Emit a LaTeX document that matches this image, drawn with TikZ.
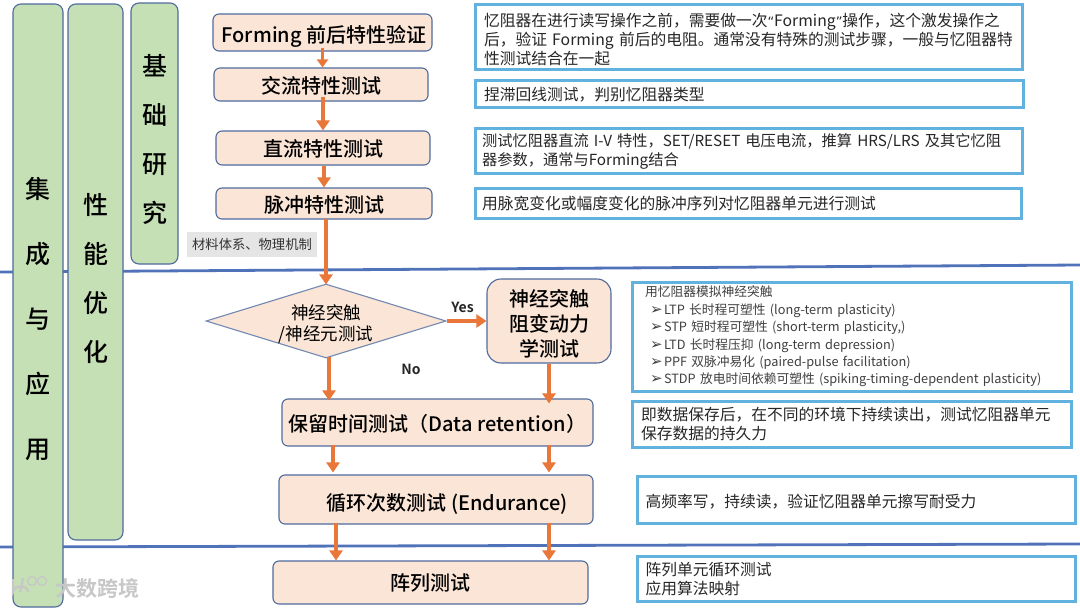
\documentclass[tikz,border=0pt]{standalone}
\usepackage{fontspec}
\setmainfont{Noto Sans CJK SC}
\newfontfamily\midfont{Noto Sans CJK SC Medium}
\newfontfamily\heavyfont{Noto Sans CJK SC Bold}
\newfontfamily\symfont{DejaVu Sans}
\usetikzlibrary{arrows.meta,shapes.geometric}
\definecolor{peach}{HTML}{FBE5D6}
\definecolor{leaf}{HTML}{C5E0B4}
\definecolor{flowblue}{HTML}{4F6A9E}
\definecolor{skyline}{HTML}{62B2DF}
\definecolor{arrowor}{HTML}{E9773A}
\definecolor{divider}{HTML}{4F72B8}
\newcommand{\blt}{\hspace*{5pt}\makebox[14pt][l]{\symfont\fontsize{15}{17.4}\selectfont ➢}}
\newcommand{\lowr}[2]{\raisebox{-#1pt}[\height][\depth]{#2}}
\newcommand{\nq}[1]{{\symfont\fontsize{13}{19}\selectfont #1}}
\begin{document}
\begin{tikzpicture}[x=1pt, y=-1pt,
    gbox/.style={rectangle, rounded corners=8, draw=flowblue, line width=1.1pt, fill=leaf},
    gtext/.style={align=center, font=\midfont\fontsize{25}{49}\selectfont, inner sep=0pt},
    tbox/.style={rectangle, rounded corners=6, draw=flowblue, line width=1.1pt, fill=peach,
                 align=center, font=\midfont\fontsize{20}{24}\selectfont, inner sep=0pt},
    dbox/.style={diamond, aspect=3.24, draw=flowblue!80!white, line width=1.1pt, fill=peach,
                 align=center, font=\fontsize{17.5}{21}\selectfont, inner sep=0pt},
    nbox/.style={rectangle, draw=skyline, line width=3pt, fill=white, inner sep=0pt,
                 align=left, font=\fontsize{15.75}{19}\selectfont, text=black!85},
    flow/.style={line width=3.4pt, arrowor, -{Triangle[width=13pt,length=10pt]}},
    sep/.style={line width=2.8pt, divider}
]
    \useasboundingbox (0,0) rectangle (1080,608);

    % dividers
    \coordinate (upL) at (0,272);
    \coordinate (upR) at (1080,265);
    \coordinate (loL) at (0,547);
    \coordinate (loR) at (1080,544);
    \draw[sep] (upL) -- (upR);
    \draw[sep] (loL) -- (loR);

    % left columns
    \node[gbox, minimum width=50, minimum height=603] (integ) at (38,305.5) {};
    \node[gbox, minimum width=55, minimum height=536] (perf) at (95.5,272) {};
    \node[gbox, minimum width=47, minimum height=261] (basic) at (154.5,133.5) {};
    \node[gtext, font=\midfont\fontsize{25}{65}\selectfont] (integt) at (38,319) {集\\成\\与\\应\\用};
    \node[gtext] (perft) at (95.5,278) {性\\能\\优\\化};
    \node[gtext] (basict) at (154.5,139.5) {基\\础\\研\\究};

    % flow
    \node[tbox, minimum width=219, minimum height=37] (form) at (322.5,32.5) {\lowr{4}{\hspace{3pt}Forming 前后特性验证}};
    \node[tbox, minimum width=214, minimum height=33] (ac) at (321,84.5) {\lowr{1}{交流特性测试}};
    \node[tbox, minimum width=214, minimum height=34] (dc) at (323,148) {\lowr{1}{直流特性测试}};
    \node[tbox, minimum width=216, minimum height=31] (pulse) at (324,203.5) {\lowr{1}{脉冲特性测试}};
    \node[rectangle, fill=black!10, minimum width=130, minimum height=25, inner sep=0pt,
          font=\fontsize{13.3}{16}\selectfont, text=black!80] (mater) at (252,244.5) {材料体系、物理机制};
    \node[dbox, minimum width=240, minimum height=74] (neuro) at (326,321) {\lowr{3}{神经突触}\\\lowr{3}{/神经元测试}};
    \node[tbox, minimum width=124, minimum height=84, rounded corners=14, font=\midfont\fontsize{20}{25}\selectfont] (dyna) at (549,321)
        {\lowr{2.5}{神经突触}\\\lowr{2.5}{阻变动力}\\\lowr{2.5}{学测试}};
    \node[tbox, minimum width=311, minimum height=47] (reten) at (437.5,422.5) {\lowr{1}{保留时间测试（Data retention）}};
    \node[tbox, minimum width=314, minimum height=49] (endur) at (436,499.5) {\lowr{5}{\hspace*{22pt}循环次数测试 (Endurance)}};
    \node[tbox, minimum width=315, minimum height=43] (array) at (430.5,582.5) {阵列测试};

    \draw[flow, line width=2.6pt, -{Triangle[width=11pt,length=8pt]}] ([yshift=4]form.south) -- (ac.north -| form.south);
    \draw[flow] ([yshift=5]ac.south -| dc.north) -- (dc.north);
    \draw[flow] (dc.south -| pulse.north) -- (pulse.north);
    \draw[flow] ([yshift=1]pulse.south -| neuro.north) -- ([yshift=-1]neuro.north);
    \draw[flow] ([xshift=3,yshift=2]neuro.south) -- ([xshift=-108.5,yshift=-2]reten.north);
    \draw[flow] (neuro.east) -- node[above=3pt, pos=0.4, font=\heavyfont\fontsize{14}{16}\selectfont, text=black!85]{Yes} (dyna.west);
    \draw[flow] (dyna.south) -- ([yshift=-5]dyna.south |- reten.north);
    \draw[flow] ([xshift=-104.5,yshift=2]reten.south) -- ([xshift=-103,yshift=2]endur.north);
    \draw[flow] ([xshift=111.5,yshift=2]reten.south) -- ([xshift=113,yshift=2]endur.north);
    \draw[flow] ([xshift=-100,yshift=2]endur.south) -- ([xshift=-94.5]array.north);
    \draw[flow] ([xshift=113,yshift=2]endur.south) -- ([xshift=118.5]array.north);
    \node[font=\heavyfont\fontsize{14}{16}\selectfont, text=black!85] (nolab) at (411,369) {No};

    % notes
    \node[nbox, minimum width=547, minimum height=65, text width=529] (n1) at (748.5,36.5)
        {\lowr{3.5}{\parbox[t]{529pt}{忆阻器在进行读写操作之前，需要做一次\nq{“}Forming\nq{”}操作，这个激发操作之\\
         后，验证 Forming 前后的电阻。通常没有特殊的测试步骤，一般与忆阻器特\\
         性测试结合在一起}}};
    \node[nbox, minimum width=548, minimum height=27, text width=530] (n2) at (749,93.5) {\lowr{1}{捏滞回线测试，判别忆阻器类型}};
    \node[nbox, minimum width=547, minimum height=45, text width=533, font=\fontsize{15.25}{19}\selectfont] (n3) at (748.5,150.5)
        {\lowr{1}{测试忆阻器直流 I-V 特性，SET/RESET 电压电流，推算 HRS/LRS 及其它忆阻}\\\lowr{1}{器参数，通常与Forming结合}};
    \node[nbox, minimum width=546, minimum height=30, text width=532] (n4) at (748,203) {\lowr{1}{用脉宽变化或幅度变化的脉冲序列对忆阻器单元进行测试}};
    \node[nbox, minimum width=439, minimum height=109, text width=413, font=\fontsize{12.75}{17.4}\selectfont, text=black!75] (n5) at (851.5,336.5)
        {用忆阻器模拟神经突触\\
         \blt LTP 长时程可塑性 (long-term plasticity)\\
         \blt STP 短时程可塑性 (short-term plasticity,)\\
         \blt LTD 长时程压抑 (long-term depression)\\
         \blt PPF 双脉冲易化 (paired-pulse facilitation)\\
         \blt STDP 放电时间依赖可塑性 (spiking-timing-dependent plasticity)};
    \node[nbox, minimum width=439, minimum height=46, text width=421] (n6) at (851.5,424)
        {即数据保存后，在不同的环境下持续读出，测试忆阻器单元\\保存数据的持久力};
    \node[nbox, minimum width=438, minimum height=47, text width=421] (n7) at (856,499.5) {\lowr{2}{高频率写，持续读，验证忆阻器单元擦写耐受力}};
    \node[nbox, minimum width=438, minimum height=45, text width=421] (n8) at (856,578.5) {\lowr{1}{阵列单元循环测试}\\\lowr{1}{应用算法映射}};

    % watermark
    \node[font=\heavyfont\fontsize{21}{24}\selectfont, text=black!22] (mark) at (98,588) {大数跨境};
    \draw[line width=2.2pt, black!22] (13,579) -- (13,592) arc (190:350:8 and 7) (23,578) -- (20,592);
    \draw[line width=1.3pt, black!22] (32,581) circle (4.5) (42,581) circle (4.5);
\end{tikzpicture}
\end{document}
